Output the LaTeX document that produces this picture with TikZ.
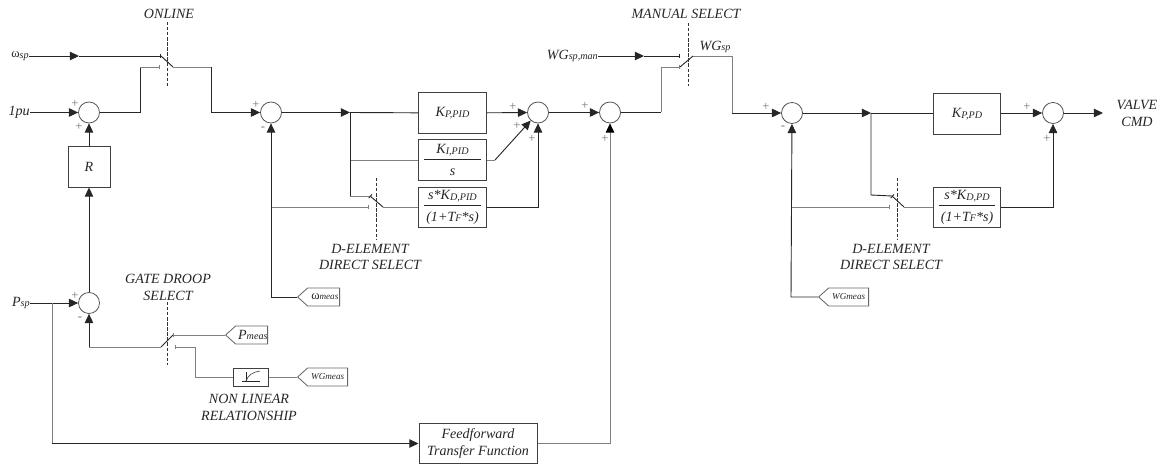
\documentclass[tikz,border=0pt]{standalone}
\usepackage{fontspec}
\setmainfont{Liberation Serif}
\usepackage{tikz}
\usetikzlibrary{arrows.meta,shapes.symbols}
\newcommand{\subt}[1]{{\fontsize{7.2}{8}\selectfont\raisebox{-.6pt}{#1}}}
\newcommand{\tagt}[1]{{\fontsize{6.5}{8}\selectfont #1}}
\newcommand{\omg}{{\upshape\fontsize{9}{9}\selectfont ω}}
\newcommand{\ratio}[2]{#1\\[-7.5pt]\rule{40pt}{.55pt}\\[-1pt]#2}
\tikzset{
  wire/.style={draw=black!85, line width=.65pt},
  wireg/.style={draw=black!50, line width=.7pt},
  e/.style={wire, -{Triangle[length=6.5pt,width=6pt]}},
  eg/.style={wireg, -{Triangle[length=6.5pt,width=6pt,fill=black,color=black]}},
  tick/.style={wire, {Bar[width=3.5pt,length=.5pt]}-},
  tickg/.style={wireg, {Bar[width=3.5pt,length=.5pt]}-},
  sel/.style={black!80, line width=.55pt, dash pattern=on 2.4pt off 1.2pt},
  sumc/.style={circle, draw=black!70, line width=.55pt, minimum size=.525cm, inner sep=0pt},
  blk/.style={rectangle, draw=black!75, line width=.7pt, align=center, inner sep=0pt,
    minimum width=1.69cm, minimum height=1cm, font=\itshape, text=black!85},
  sigtag/.style={signal, signal to=west, signal pointer angle=84, draw=black!60, line width=.6pt,
    inner sep=0pt, minimum height=.45cm, anchor=west, font=\itshape, text=black!85},
  lbl/.style={align=center, inner sep=0pt, font=\itshape, text=black!85},
  sgn/.style={inner sep=0pt, text=black!55, font=\fontsize{9}{9}\selectfont},
}
\begin{document}
\begin{tikzpicture}[x=.025cm, y=-.025cm]
\useasboundingbox (0,0) rectangle (1161,464);
% summing points
\node[sumc] (sumA) at (89,112.5)  {};
\node[sumc] (sumB) at (271,112.5) {};
\node[sumc] (sumC) at (538,112.5) {};
\node[sumc] (sumD) at (610,112.5) {};
\node[sumc] (sumE) at (792,113)   {};
\node[sumc] (sumF) at (1053,113)  {};
\node[sumc] (sumP) at (89,303)    {};
% blocks
\node[blk, minimum width=1.05cm] (droop) at (89,167) {R};
\node[blk] (kppid) at (452.5,113) {K\subt{P,PID}};
\node[blk] (kipid) at (452.5,160) {\ratio{K\subt{I,PID}}{s}};
\node[blk] (kdpid) at (452.5,207) {\ratio{s*K\subt{D,PID}}{(1+T\subt{F}*s)}};
\node[blk] (kppd)  at (967,114)   {K\subt{P,PD}};
\node[blk] (kdpd)  at (967,207)   {\ratio{s*K\subt{D,PD}}{(1+T\subt{F}*s)}};
\node[blk, minimum width=2.95cm, minimum height=.99cm] (ffwd) at (478,443.5) {Feedforward\\Transfer Function};
\node[blk, minimum width=.875cm, minimum height=.45cm] (nonlin) at (250.5,377) {};
% inputs and measured signals
\node[lbl, anchor=east] (wsp)   at (29,56)   {\omg\subt{sp}};
\node[lbl, anchor=east] (onepu) at (30,112.5) {1pu};
\node[lbl, anchor=east] (psp)   at (30,303)  {P\subt{sp}};
\node[lbl, anchor=east] (wgman) at (598,56)  {WG\subt{sp,man}};
\node[sigtag, minimum width=1.05cm] (pmeas) at (225,335) {\,P\subt{meas}};
\node[sigtag, minimum width=1.25cm] (wgmA)  at (297,377) {\tagt{WGmeas}};
\node[sigtag, minimum width=1.05cm] (wmeas) at (297,297) {\,\omg\tagt{meas}};
\node[sigtag, minimum width=1.25cm] (wgmB)  at (818,297) {\tagt{WGmeas}};
% captions
\node[lbl] (capon)  at (169,14)  {ONLINE};
\node[lbl] (capman) at (686,14)  {MANUAL SELECT};
\node[lbl] (capgd)  at (168,287) {GATE DROOP\\SELECT};
\node[lbl] (capdA)  at (370,257) {D-ELEMENT\\DIRECT SELECT};
\node[lbl] (capdB)  at (891,257) {D-ELEMENT\\DIRECT SELECT};
\node[lbl] (capnl)  at (249,407) {NON LINEAR\\RELATIONSHIP};
\node[lbl] (capwg)  at (715,47)  {WG\subt{sp}};
\node[lbl] (valve)  at (1137,113) {VALVE\\CMD};
% switch points
\coordinate (wspa) at (79,56);
\coordinate (onU)  at (161,56);
\coordinate (onL)  at (160,67);
\coordinate (onB)  at (173,67);
\coordinate (manA) at (644,56);
\coordinate (manU) at (680,56);
\coordinate (manL) at (680,67);
\coordinate (manB) at (693,56);
\coordinate (gdC)  at (161,347);
\coordinate (gdU)  at (173,335);
\coordinate (gdL)  at (175,347);
\coordinate (brA)  at (350,112.5);
\coordinate (dAU)  at (370,196);
\coordinate (dAL)  at (369,207);
\coordinate (dAB)  at (383,207);
\coordinate (brB)  at (871,113);
\coordinate (dBU)  at (892,196);
\coordinate (dBL)  at (890,207);
\coordinate (dBB)  at (904,207);
\coordinate (kiout) at (495,160);
\coordinate (ffbr) at (52,303);
\coordinate (valveA) at (1103,113);
% selector lines
\draw[sel] (167,22)  -- (167,86);
\draw[sel] (167,302) -- (167,365);
\draw[sel] (376,178) -- (376,240);
\draw[sel] (688,23)  -- (688,86);
\draw[sel] (897,178) -- (897,240);
% edges
\draw[e] (wsp) -- (wspa);
\draw[wire, -{Bar[width=3.5pt,length=.5pt]}] (wspa) -- (onU);
\draw[wire] (onU) -- (onB);
\draw[wireg] (onB) -- (211,67);
\draw[e] (211,67) -- (211,112.5) -- (sumB);
\draw[e] (onepu) -- (sumA);
\draw[wire] (sumA) -- (140,112.5) -- (140,67);
\draw[tickg] (onL) -- (140,67);
\draw[e] (droop) -- (sumA);
\draw[e] (sumP) -- (droop);
\draw[e] (psp) -- (sumP);
\draw[wireg] (ffbr) -- (52,443.5);
\draw[e] (52,443.5) -- (ffwd);
\draw[e] (sumB) -- (brA);
\draw[wire] (brA) -- (kppid);
\draw[wireg] (350,160) -- (kipid);
\draw[wire] (brA) -- (350,196);
\draw[wireg] (350,196) -- (dAU);
\draw[tick] (dAU) -- (dAB);
\draw[wireg] (dAB) -- (kdpid);
\draw[tickg] (dAL) -- (271,207);
\draw[e] (wmeas.west) -- (271,297) -- (sumB);
\draw[e] (kppid) -- (sumC);
\draw[wireg] (kipid) -- (kiout);
\draw[e] (kiout) -- (sumC);
\draw[e] (kdpid) -| (sumC);
\draw[e] (sumC) -- (sumD);
\draw[eg] (ffwd) -| (sumD);
\draw[e] (wgman) -- (manA);
\draw[wire, -{Bar[width=3.5pt,length=.5pt]}] (manA) -- (manU);
\draw[wire] (sumD) -- (661,112.5);
\draw[wireg] (661,112.5) -- (661,67);
\draw[tickg] (manL) -- (661,67);
\draw[wire] (manL) -- (manB);
\draw[wireg] (manB) -- (732,56) -- (732,113);
\draw[e] (732,113) -- (sumE);
\draw[e] (sumE) -- (brB);
\draw[wire] (brB) -- (kppd.west |- brB);
\draw[wire] (brB) -- (871,195) -- (dBU);
\draw[tick] (dBU) -- (dBB);
\draw[wireg] (dBB) -- (kdpd);
\draw[tickg] (dBL) -- (791,207);
\draw[e] (wgmB.west) -- (791,297) -- (sumE);
\draw[e] (kppd.east |- sumF) -- (sumF);
\draw[e] (kdpd) -| (sumF);
\draw[e] (sumF) -- (valveA);
\draw[e] (89,347) -- (sumP);
\draw[wireg] (gdC) -- (89,347);
\draw[wire] (gdC) -- (gdU);
\draw[tickg] (gdU) -- (pmeas.west);
\draw[tickg] (gdL) -- (195,347);
\draw[wireg] (195,347) -- (195,377) -- (nonlin);
\draw[wireg] (nonlin) -- (wgmA.west);
% curve in the block
\draw[wire, line width=.5pt] (242,381) -- (260,381) (246,372) -- (246,381);
\draw[black!70, line width=.5pt] (246,381) .. controls (248,375) and (253,372) .. (260,371);
% signs
\node[sgn] (sA1) at (75,104)   {+};
\node[sgn] (sA2) at (79,127)   {+};
\node[sgn] (sB1) at (256,105)  {+};
\node[sgn] (sB2) at (263,129)  {-};
\node[sgn] (sP1) at (75,296)   {+};
\node[sgn] (sP2) at (80,319)   {-};
\node[sgn] (sC1) at (513,107)  {+};
\node[sgn] (sC2) at (517,126)  {+};
\node[sgn] (sC3) at (532,139)  {+};
\node[sgn] (sD1) at (585,106)  {+};
\node[sgn] (sD2) at (605,139)  {+};
\node[sgn] (sE1) at (766,107)  {+};
\node[sgn] (sE2) at (783,128)  {-};
\node[sgn] (sF1) at (1027,107) {+};
\node[sgn] (sF2) at (1047,139) {+};
\end{tikzpicture}
\end{document}
